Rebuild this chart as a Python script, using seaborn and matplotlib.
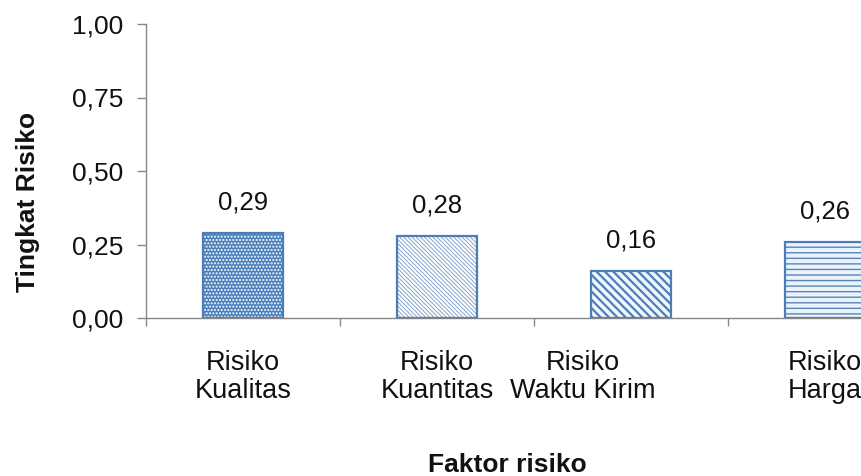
import matplotlib
matplotlib.use("Agg")
import matplotlib.pyplot as plt
import matplotlib.transforms as mtransforms
import seaborn as sns
import pandas as pd

# Data
categories = ["Risiko\nKualitas", "Risiko\nKuantitas", "Risiko\nWaktu Kirim", "Risiko\nHarga"]
values = [0.29, 0.28, 0.16, 0.26]
y_ticks = [0.00, 0.25, 0.50, 0.75, 1.00]

# Per-bar fill styles
hatches = [".....", "\\" * 8, "\\" * 4, "---"]
face_colors = ["#4a7ebb", "#ffffff", "#f2f7fc", "#eaf2fb"]
hatch_colors = ["#ffffff", "#86a3c8", "#4a7ebb", "#5a84b8"]
hatch_widths = [1.0, 0.7, 1.6, 1.0]
outline = "#4a7ebb"
axis_grey = "#868686"
text_color = "#111111"

sns.set_theme(style="white")
plt.rcParams["font.family"] = ["Liberation Sans", "DejaVu Sans"]

df = pd.DataFrame({"faktor": categories, "tingkat": values})

fig = plt.figure(figsize=(8.62, 4.76), dpi=100)
ax = fig.add_axes([146 / 862, 1 - 318 / 476, 776 / 862, 294 / 476])

# fill and hatch layer
sns.barplot(data=df, x="faktor", y="tingkat", ax=ax, width=0.41,
            color="white", saturation=1, linewidth=0, errorbar=None)
for patch, fc, hc, h, hw in zip(ax.patches, face_colors, hatch_colors, hatches, hatch_widths):
    patch.set_facecolor(fc)
    patch.set_edgecolor(hc)
    patch.set_hatch(h)
    patch.set_linewidth(0)
    if hasattr(patch, "set_hatch_linewidth"):
        patch.set_hatch_linewidth(hw)

# outline layer
sns.barplot(data=df, x="faktor", y="tingkat", ax=ax, width=0.41,
            fill=False, color=outline, linewidth=1.6, errorbar=None)
for patch in ax.containers[-1]:
    patch.set_edgecolor(outline)
    patch.set_facecolor("none")

# value labels
ax.bar_label(ax.containers[-1],
             labels=[f"{v:.2f}".replace(".", ",") for v in values],
             padding=13, fontsize=18.5, color=text_color)

# axes
n = len(categories)
ax.set_ylim(0, 1.0)
ax.set_xlim(-0.5, n - 0.5)
ax.set_yticks(y_ticks, [f"{t:.2f}".replace(".", ",") for t in y_ticks])
ax.set_xticks([i - 0.5 for i in range(n + 1)], [""] * (n + 1))
ax.set_xticks(range(n), categories, minor=True)

ax.tick_params(axis="y", direction="out", length=6.5, width=1, color=axis_grey,
               pad=10, labelsize=19, labelcolor=text_color, left=True)
ax.tick_params(axis="x", which="major", direction="out", length=6, width=1,
               color=axis_grey, bottom=True)
ax.tick_params(axis="x", which="minor", length=0, pad=23, labelsize=19.5,
               labelcolor=text_color)

for side in ["top", "right"]:
    ax.spines[side].set_visible(False)
for side in ["left", "bottom"]:
    ax.spines[side].set_color(axis_grey)
    ax.spines[side].set_linewidth(1)

for lab in ax.get_xticklabels(minor=True):
    lab.set_linespacing(1.1)
    lab.set_ha("center")
    lab.set_multialignment("center")

# third category label sits left of its bar
third = ax.get_xticklabels(minor=True)[2]
third.set_transform(third.get_transform() +
                    mtransforms.ScaledTranslation(-0.48, 0, fig.dpi_scale_trans))

ax.set_ylabel("Tingkat Risiko", fontsize=19, fontweight="bold", color=text_color)
ax.yaxis.set_label_coords(-0.137, 0.395)
ax.set_xlabel("Faktor risiko", fontsize=19, fontweight="bold", color=text_color)
ax.xaxis.set_label_coords(0.466, -0.458)

ax.grid(False)
fig.savefig("out.png", dpi=100)
